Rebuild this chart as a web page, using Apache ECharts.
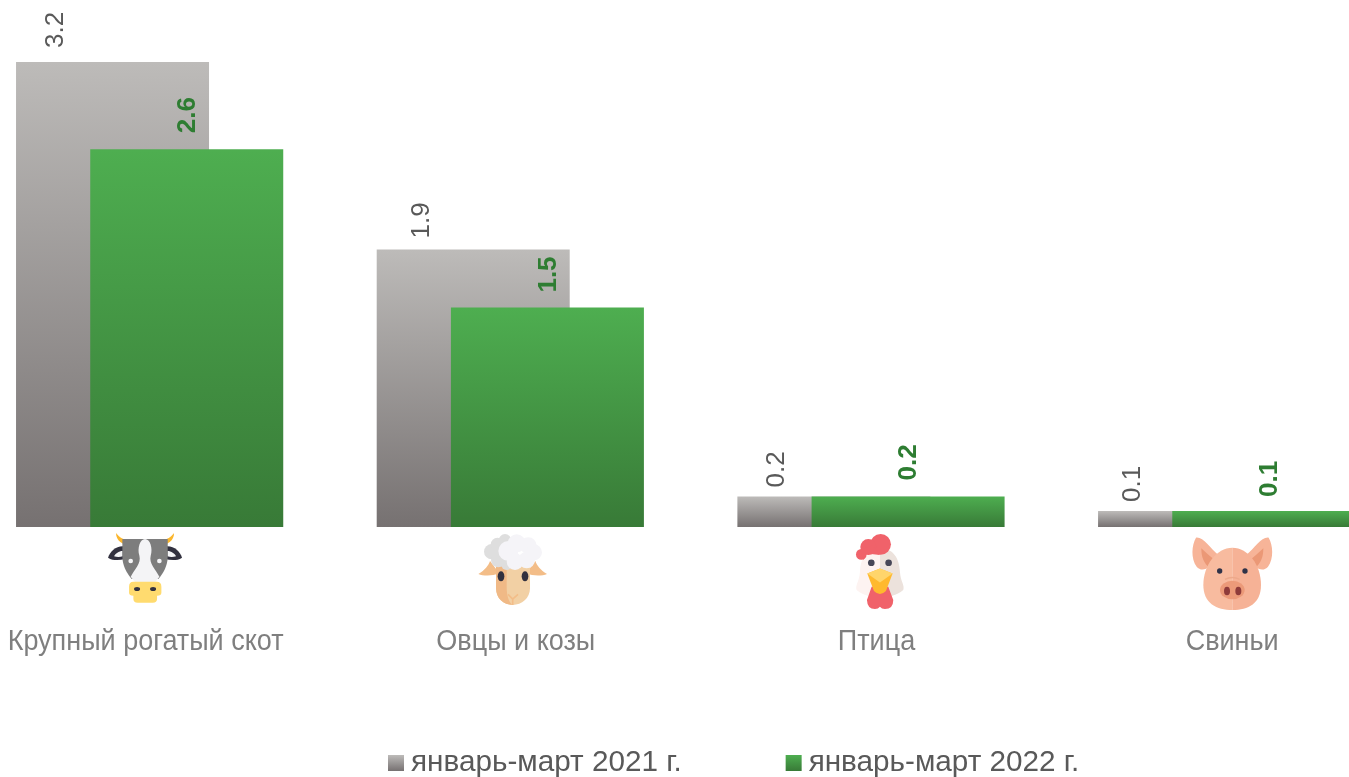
<!DOCTYPE html>
<html>
<head>
<meta charset="utf-8">
<title>chart</title>
<style>
html,body{margin:0;padding:0;background:#fff;}
#main{width:1349px;height:777px;}
</style>
<script src="https://cdn.jsdelivr.net/npm/echarts@6/dist/echarts.min.js"></script>
</head>
<body>
<div id="main"></div>
<script>
var categories = ['Крупный рогатый скот', 'Овцы и козы', 'Птица', 'Свиньи'];
var seriesNames = ['январь-март 2021 г.', 'январь-март 2022 г.'];
var values2021 = [3.2, 1.91, 0.21, 0.11];
var values2022 = [2.6, 1.51, 0.21, 0.11];
var labels2021 = ['3.2', '1.9', '0.2', '0.1'];
var labels2022 = ['2.6', '1.5', '0.2', '0.1'];

// подписи серых столбиков стоят не по центру столбика
var greyLabelShift = [-57, -51, -57, -62];
var greyLabelLift = [2, -1, -3, -3];
var greenLabelLift = [0, -1, 0, -2];
// подписи категорий тоже смещены относительно центра
var catShift = [-4, 5.5, 5.5, 0.5];

function svgUri(box, body) {
    return 'data:image/svg+xml;charset=utf-8,' + encodeURIComponent(
        '<svg xmlns="http://www.w3.org/2000/svg" viewBox="' + box + '">' + body + '</svg>');
}

var cowSvg = svgUri('50 20 230 220',
    '<path fill="#fbb62c" d="M78 24C78 46 95 62 130 62V44C106 48 90 40 78 24Z"/>' +
    '<path fill="#fbb62c" d="M252 24C252 46 235 62 200 62V44C224 48 240 40 252 24Z"/>' +
    '<path fill="#32313f" d="M105 64C80 60 60 78 54 98C70 108 88 106 105 102Z"/>' +
    '<path fill="#32313f" d="M225 64C250 60 270 78 276 98C260 108 242 106 225 102Z"/>' +
    '<path fill="#f4f4f6" d="M98 78C86 78 76 86 72 94C80 97 90 97 98 94Z"/>' +
    '<path fill="#f4f4f6" d="M232 78C244 78 254 86 258 94C250 97 240 97 232 94Z"/>' +
    '<path fill="#7d7d7d" d="M97 42H233V95C233 120 220 145 205 162H125C110 145 97 120 97 95Z"/>' +
    '<path fill="#f4f4f6" d="M165 42C150 42 141 70 148 92C154 115 134 132 122 155L140 178H190L208 155C196 132 176 115 182 92C189 70 180 42 165 42Z"/>' +
    '<circle cx="122" cy="108" r="7" fill="#f4f4f6"/><circle cx="208" cy="108" r="7" fill="#f4f4f6"/>' +
    '<path fill="#ffdb6f" d="M130 170H200Q214 170 214 185V203Q214 212 201 212V222Q201 233 188 233H143Q130 233 130 222V212Q117 212 117 203V185Q117 170 130 170Z"/>' +
    '<ellipse cx="141" cy="192" rx="9" ry="6" fill="#32313f"/><ellipse cx="189" cy="192" rx="9" ry="6" fill="#32313f"/>');

var sheepSvg = svgUri('1160 20 220 225',
    '<path fill="#f3bd88" d="M1165 147C1185 135 1195 122 1200 108L1228 145C1205 154 1180 153 1165 147Z"/>' +
    '<path fill="#f3bd88" d="M1371 147C1351 135 1341 122 1336 108L1308 145C1331 154 1356 153 1371 147Z"/>' +
    '<path fill="#f2d0a4" d="M1218 110H1320V190C1320 220 1295 240 1268 240C1240 240 1218 220 1218 190Z"/>' +
    '<path fill="#f0b986" d="M1218 110H1250V185C1250 210 1255 230 1268 240C1240 240 1218 220 1218 190Z"/>' +
    '<g fill="#dedede"><circle cx="1205" cy="80" r="23"/><circle cx="1222" cy="58" r="20"/><circle cx="1245" cy="46" r="19"/><circle cx="1225" cy="105" r="22"/><circle cx="1250" cy="118" r="17"/></g>' +
    '<g fill="#f5f4f8"><circle cx="1255" cy="78" r="30"/><circle cx="1280" cy="55" r="27"/><circle cx="1315" cy="62" r="25"/><circle cx="1332" cy="82" r="24"/><circle cx="1310" cy="105" r="25"/><circle cx="1275" cy="110" r="25"/></g>' +
    '<ellipse cx="1233" cy="154" rx="10" ry="15" fill="#32313f"/><ellipse cx="1305" cy="154" rx="10" ry="15" fill="#32313f"/>' +
    '<path fill="none" stroke="#f3bd88" stroke-width="5" d="M1254 208L1268 222L1284 208M1268 222V240"/>');

var henSvg = svgUri('40 20 160 236',
    '<path fill="#fdf3f1" d="M120 70C80 70 62 100 60 140C58 170 45 180 50 195C70 212 95 216 120 216Z"/>' +
    '<path fill="#ece2dc" d="M120 70C160 70 178 100 180 140C182 170 195 180 190 195C170 212 145 216 120 216Z"/>' +
    '<g fill="#f0626a"><circle cx="122" cy="58" r="31"/><circle cx="85" cy="66" r="24"/><circle cx="64" cy="88" r="16"/><path d="M60 75L100 60L120 90L80 85L70 105Z"/></g>' +
    '<path fill="#f0626a" d="M95 185L81 225Q82 252 105 252Q115 252 120 245Q125 252 135 252Q160 252 160 225L145 185Z"/>' +
    '<circle cx="94" cy="113" r="10" fill="#474757"/><circle cx="146" cy="113" r="10" fill="#474757"/>' +
    '<path fill="#ffb92e" d="M82 145L120 130L158 145L138 198Q120 216 102 198Z"/>' +
    '<path fill="#ffd56b" d="M120 130L158 145L120 172L82 145Z"/>');

var pigSvg = svgUri('1050 30 252 228',
    '<path fill="#f7b498" d="M1068 38C1055 60 1052 100 1070 125C1085 142 1110 135 1135 90C1110 70 1090 35 1068 38Z"/>' +
    '<path fill="#f7b498" d="M1286 38C1299 60 1302 100 1284 125C1269 142 1244 135 1219 90C1244 70 1264 35 1286 38Z"/>' +
    '<path fill="#eb9876" d="M1084 70C1084 95 1090 115 1112 132L1118 100C1105 90 1095 80 1084 70Z"/>' +
    '<path fill="#eb9876" d="M1270 70C1270 95 1264 115 1242 132L1236 100C1249 90 1259 80 1270 70Z"/>' +
    '<path fill="#f8bb9f" d="M1177 68C1130 68 1090 120 1090 180C1090 235 1130 255 1177 255Z"/>' +
    '<path fill="#f6b296" d="M1177 68C1225 68 1263 120 1263 180C1263 235 1225 255 1177 255Z"/>' +
    '<circle cx="1139" cy="138" r="8" fill="#2f3248"/><circle cx="1215" cy="138" r="8" fill="#2f3248"/>' +
    '<path fill="none" stroke="#eda98b" stroke-width="4" d="M1155 163Q1177 152 1199 163"/>' +
    '<ellipse cx="1177" cy="195" rx="37" ry="28" fill="#ec9a79"/>' +
    '<ellipse cx="1161" cy="198" rx="9" ry="13" fill="#8f3b3a"/><ellipse cx="1195" cy="198" rx="9" ry="13" fill="#8f3b3a"/>');

function grad(top, bottom) {
    return new echarts.graphic.LinearGradient(0, 0, 0, 1, [
        {offset: 0, color: top},
        {offset: 1, color: bottom}
    ]);
}

function icon(svg, x, y, w, h) {
    return {type: 'image', left: x, top: y, z: 10, style: {image: svg, x: 0, y: 0, width: w, height: h}};
}

var greyData = [];
var greenData = [];
for (var i = 0; i < categories.length; i++) {
    greyData.push({value: values2021[i], label: {formatter: labels2021[i], offset: [greyLabelLift[i], greyLabelShift[i]]}});
    greenData.push({value: values2022[i], label: {formatter: labels2022[i], offset: [greenLabelLift[i], 1]}});
}

var myChart = echarts.init(document.getElementById('main'));
myChart.setOption({
    animation: false,
    legend: {
        left: 388,
        top: 748,
        padding: 0,
        itemWidth: 16,
        itemHeight: 16,
        itemGap: 104,
        selectedMode: false,
        textStyle: {fontFamily: 'Liberation Sans', fontSize: 29.7, color: '#595959', padding: [0, 0, 0, 2]},
        data: [
            {name: seriesNames[0], icon: 'rect'},
            {name: seriesNames[1], icon: 'rect'}
        ]
    },
    grid: {left: -30.7, top: 62, width: 1442.7, height: 465, outerBoundsMode: 'none'},
    xAxis: {
        type: 'category',
        data: categories,
        axisLine: {show: false},
        axisTick: {show: false},
        axisLabel: {show: false}
    },
    yAxis: {type: 'value', min: 0, max: 3.2, show: false},
    series: [
        {
            name: seriesNames[0],
            type: 'bar',
            barWidth: 193,
            barGap: '-61.55%',
            itemStyle: {color: grad('#bdbbb9', '#767171')},
            label: {
                show: true,
                position: 'top',
                distance: 12,
                rotate: 90,
                align: 'left',
                verticalAlign: 'middle',
                fontFamily: 'Liberation Sans',
                fontSize: 26,
                color: '#595959'
            },
            data: greyData
        },
        {
            name: seriesNames[1],
            type: 'bar',
            barWidth: 193,
            itemStyle: {color: grad('#4eae50', '#387a37')},
            label: {
                show: true,
                position: 'top',
                distance: 16,
                rotate: 90,
                align: 'left',
                verticalAlign: 'middle',
                fontFamily: 'Liberation Sans',
                fontSize: 26,
                fontWeight: 'bold',
                color: '#2e7d32'
            },
            data: greenData
        },
        {
            // подписи категорий сжаты по горизонтали, обычный axisLabel так не умеет
            type: 'custom',
            silent: true,
            data: categories,
            renderItem: function (params, api) {
                var idx = params.dataIndex;
                var p = api.coord([idx, 0]);
                return {
                    type: 'text',
                    x: p[0] + catShift[idx],
                    y: p[1] + 114.5,
                    scaleX: 0.9,
                    style: {
                        text: categories[idx],
                        fontFamily: 'Liberation Sans',
                        fontSize: 30,
                        fill: '#7f7f7f',
                        align: 'center',
                        verticalAlign: 'middle'
                    }
                };
            }
        }
    ],
    graphic: [
        icon(cowSvg, 106.7, 531.7, 76.7, 73.3),
        icon(sheepSvg, 476.7, 531.7, 73.3, 75),
        icon(henSvg, 853.3, 531.7, 53.3, 78.7),
        icon(pigSvg, 1190, 535, 84, 76)
    ]
});
</script>
</body>
</html>
